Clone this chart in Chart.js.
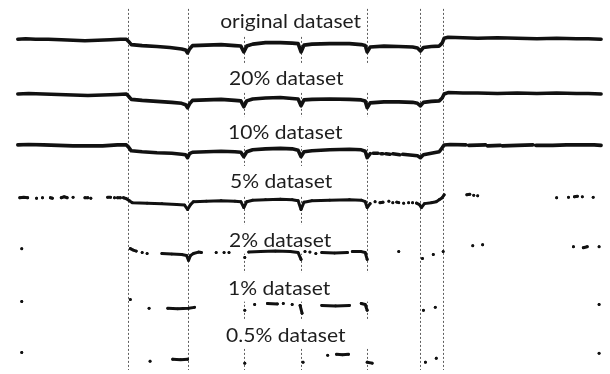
<!DOCTYPE html>
<html>
<head>
<meta charset="utf-8">
<script src="https://cdn.jsdelivr.net/npm/chart.js@4.4.1/dist/chart.umd.min.js"></script>
<style>
  html, body { margin: 0; padding: 0; background: #ffffff; }
  #wrap { width: 610px; height: 374px; position: relative; }
</style>
</head>
<body>
<div id="wrap"><canvas id="c"></canvas></div>
<script>
// ---- DATA (x = time index, y = stacked relative level, larger = lower) ----
const seriesNames = ['original dataset', '20% dataset', '10% dataset', '5% dataset', '2% dataset', '1% dataset', '0.5% dataset'];

// times of the marked events (vertical dashed guides)
const eventTimes = [126, 186, 243, 301, 368, 422, 445];

const original = [[14,36],[22,35.5],[32,36],[45,36],[58,36.5],[70,37],[82,37.5],[95,37],[108,36.5],[118,36],[124,36],[126,38],[129,41.5],[140,42.5],[155,43.5],[168,44.5],[180,46],[184,47],[186,50],[188,46],[191,42.5],[205,42],[220,41.5],[234,42.5],[240,43],[243,49],[246,43],[252,41],[265,39.5],[280,39.5],[292,40],[298,40.5],[301,49],[304,42],[312,41],[330,40.5],[350,40.5],[362,41.5],[366,42.5],[368,49],[371,44],[385,43],[400,43.5],[414,44],[419,45],[422,48],[425,44.5],[433,43.5],[441,43],[444,40],[446,35],[450,34],[465,34.5],[480,35],[500,34.5],[520,35],[540,35.5],[560,35],[580,35.5],[592,35.5],[605,36]];

const pct20 = [[14,92],[25,91.5],[40,92],[55,92.5],[70,93],[85,93.5],[100,93],[115,92.5],[124,92],[126,94],[129,97.5],[140,98.5],[155,99.5],[170,100.5],[180,101.5],[184,103],[186,106],[188,102],[191,98.5],[205,98],[220,97.5],[234,98.5],[240,99],[243,105],[246,99],[252,97],[265,96],[280,95.5],[292,96.5],[298,97],[301,104],[304,98],[312,97.5],[330,97],[350,97.5],[362,98],[366,99],[368,106],[371,101],[385,100],[400,100],[414,100.5],[419,101.5],[422,104],[425,100.5],[433,99.5],[441,99],[444,96],[446,92],[450,90.5],[465,91],[480,91],[500,91.5],[520,91],[540,91.5],[560,91],[580,91.5],[592,91.5],[605,92]];

const pct10 = [[14,144],[25,143.5],[40,144],[55,144.5],[70,145],[85,145],[100,145],[115,144],[124,144],[126,146],[129,150],[140,151],[155,152],[170,152.5],[180,153.5],[184,154],[186,157],[188,153],[191,151.5],[205,151],[220,150.5],[234,151],[240,151.5],[243,156],[246,151],[252,149],[265,148],[280,147.5],[292,148],[298,149.5],[301,156],[304,151],[312,150],[330,149],[350,148.5],[362,149],[366,150.5],[368,157],[371,153],null,[374,152.5],[379,152.5],null,[382,153],[384,153],null,[387,153],[391,153.5],null,[394,153],[401,154],null,[404,153.5],[414,154.5],[419,155],[422,157],[425,154],[433,152.5],[441,151],[444,147],[446,144],[452,143.5],[468,144],null,[471,144.5],[488,144],null,[490,145],[503,144.5],null,[505,145],[520,144.5],[536,144],null,[539,144.5],[556,144.5],[570,144],[585,144],[598,144],[605,144.5]];

const pct5 = [[16,198],[20,197.5],[24,198],null,[33,198.5],null,[39,198],null,[47,198],[49,198.5],null,[58,198],[61,197],[64,198],null,[70,197.5],null,[82,198],[85,198],null,[88,198.5],null,[105,197.5],[108,197.5],null,[112,198],null,[115,198],[118,198],null,[121,198],[124,199],[127,201],[130,203],[145,203.5],[160,204],[175,205],[183,205.5],[186,210],[189,205],[192,202],[205,201.5],[220,201],[234,201.5],[240,202],[243,208],[246,202],[252,200.5],[265,200],[280,199.5],[292,200],[298,201],[301,210],[304,202.5],[312,201],[330,200.5],[350,200],[362,200.5],[366,202],[368,208],[371,204],null,[376,202],null,[381,203],[384,202.5],null,[390,201.5],null,[394,203],null,[398,202.5],[400,203],null,[405,203.5],null,[410,203],null,[414,203],null,[418,203.5],[421,205],[423,208],[426,204],[433,203],[438,202],[441,200],[444,198],[446,195],null,[469,195],[472,194.5],null,[476,195.5],null,[480,196],null,[560,198],null,[572,197.5],null,[578,197],[581,196.5],null,[586,197],null,[597,197.5]];

const pct2 = [[18,250],null,[128,250],[131,251.5],[134,252.5],null,[140,254],null,[145,255],null,[160,255],[170,255.5],[180,256],[185,257],[187,262],[189,257],[192,255],[197,253.5],[200,254],null,[215,254],null,[223,254],null,[228,254],null,[244,259],null,[248,253.5],[260,253],[275,252.5],[290,253],[298,254],[301,261],null,[305,253],null,[310,253.5],null,[316,255],null,[322,254],[335,254.5],[348,254],null,[353,253],[362,253],[366,254],[368,261],null,[400,253],null,[424,260],null,[435,256],null,[445,253],null,[475,247],null,[485,246],null,[577,248],null,[587,249],[591,248],null,[603,248]];

const pct1 = [[18,304],null,[128,302],null,[147,311],null,[166,311],[176,311.5],[187,311],[193,310],null,[244,313],null,[254,307],null,[267,306],[277,306.5],null,[283,306],null,[292,307],null,[300,308],[302,316],null,[322,308],[336,308.5],[350,308],null,[362,306],[366,307],[368,313],null,[425,313],null,[437,310],null,[603,307]];

const pct05 = [[18,356],null,[148,365],null,[171,363],[179,363.5],[186,363],null,[244,367],null,[303,366],null,[328,359],null,[337,358],[343,358.5],[349,358],null,[368,366],[373,367],null,[427,366],null,[438,362],null,[603,357]];

// ---- presentation ----
const labelLayout = [ // left x, baseline (in axis units), box reaches past the 368 guide
  {x: 219, y: 25, wide: false},
  {x: 228, y: 83, wide: true},
  {x: 227, y: 138, wide: true},
  {x: 229, y: 188, wide: false},
  {x: 228, y: 248, wide: false},
  {x: 227, y: 297, wide: true},
  {x: 225, y: 345, wide: true}
];

function toPts(arr) {
  const out = [];
  arr.forEach((p, i) => {
    if (p) out.push({x: p[0], y: p[1]});
    else out.push({x: arr[i - 1][0] + 0.5, y: null});
  });
  return out;
}

const traces = [original, pct20, pct10, pct5, pct2, pct1, pct05];
const sparse = [false, false, false, true, true, true, true];

const datasets = traces.map((t, i) => ({
  label: seriesNames[i],
  data: toPts(t),
  borderColor: '#111111',
  backgroundColor: '#111111',
  borderWidth: sparse[i] ? 3 : 3.6,
  pointRadius: sparse[i] ? 1.4 : 0,
  pointBorderWidth: 0,
  pointBackgroundColor: '#111111',
  spanGaps: false,
  tension: 0,
  fill: false
}));

const FONT_FAMILY = 'Lato, "Open Sans", sans-serif';
const FONT_SIZE = 19;

const backdrop = {
  id: 'backdrop',
  beforeDatasetsDraw(chart) {
    const ctx = chart.ctx;
    const xs = chart.scales.x, ys = chart.scales.y;
    // dashed guides
    ctx.save();
    ctx.strokeStyle = '#5e5e5e';
    ctx.lineWidth = 1;
    ctx.setLineDash([2, 2]);
    eventTimes.forEach(t => {
      const px = Math.round(xs.getPixelForValue(t)) + 0.5;
      ctx.beginPath();
      ctx.moveTo(px, ys.getPixelForValue(5));
      ctx.lineTo(px, ys.getPixelForValue(374));
      ctx.stroke();
    });
    ctx.restore();
    // label boxes & text
    ctx.save();
    ctx.font = FONT_SIZE + 'px ' + FONT_FAMILY;
    // condense glyphs so the first label spans its width in the figure
    const sx = 141 / ctx.measureText(seriesNames[0]).width;
    ctx.textBaseline = 'alphabetic';
    ctx.textAlign = 'left';
    seriesNames.forEach((name, i) => {
      const L = labelLayout[i];
      const w = ctx.measureText(name).width * sx;
      const x0 = xs.getPixelForValue(L.x);
      const yb = ys.getPixelForValue(L.y);
      const right = L.wide ? Math.max(x0 + w + 4, xs.getPixelForValue(372)) : x0 + w + 4;
      ctx.fillStyle = '#ffffff';
      ctx.fillRect(x0 - 5, yb - 22, right - x0 + 5, 29);
      ctx.save();
      ctx.translate(x0, yb);
      ctx.scale(sx, 1);
      ctx.fillStyle = '#1e1e1e';
      ctx.fillText(name, 0, 0);
      ctx.restore();
    });
    ctx.restore();
  }
};

new Chart(document.getElementById('c'), {
  type: 'line',
  data: { datasets },
  options: {
    responsive: true,
    maintainAspectRatio: false,
    animation: false,
    devicePixelRatio: 1,
    layout: { padding: 0 },
    plugins: { legend: { display: false }, tooltip: { enabled: false } },
    elements: { line: { borderJoinStyle: 'round', borderCapStyle: 'round' } },
    scales: {
      x: { type: 'linear', min: 0, max: 610, display: false },
      y: { type: 'linear', min: 0, max: 374, reverse: true, display: false }
    }
  },
  plugins: [backdrop]
});
</script>
</body>
</html>
